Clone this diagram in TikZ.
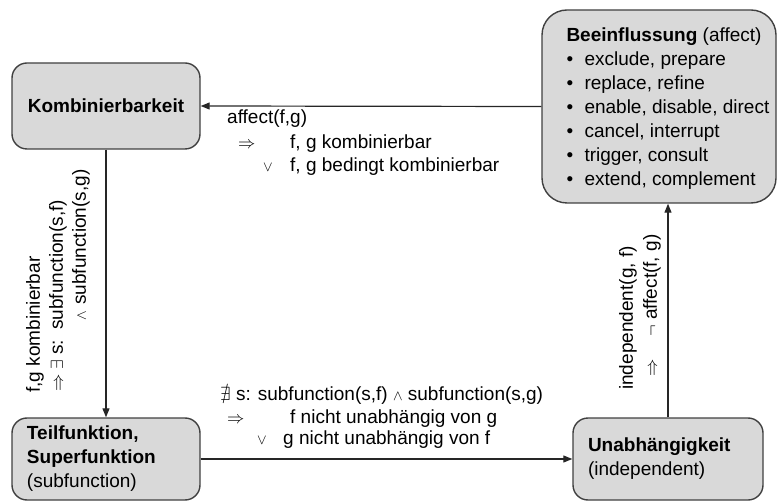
\documentclass[tikz,border=0pt]{standalone}
\usepackage{fontspec}
\setmainfont{Liberation Sans}
\usepackage{amssymb}
\usetikzlibrary{arrows.meta}
\newcommand{\tabto}[2]{\makebox[#1][l]{#2}}
\newcommand{\smallor}{$\scriptstyle\vee$}
\newcommand{\smalland}{$\scriptstyle\wedge$}
\definecolor{boxgray}{RGB}{217,217,217}
\definecolor{edgegray}{RGB}{64,64,64}

\begin{document}
\begin{tikzpicture}[x=1pt,y=-1pt,font=\fontsize{19}{24}\selectfont,
  box/.style={draw=edgegray,fill=boxgray,line width=1.4pt,rounded corners=15pt,inner sep=0pt},
  conn/.style={draw=black!85,line width=1.2pt,-{Triangle[length=9pt,width=7pt]}},
  lbl/.style={inner sep=0pt,anchor=west},
  vlbl/.style={inner sep=0pt,anchor=west,rotate=90}]
\useasboundingbox (0,0) rectangle (781,502);
%%%%%%%%%%%%%%%%%%%% the four boxes %%%%%%%%%%%%%%%%%%%%
\node[box,minimum width=188pt,minimum height=86pt] (komb) at (106,106) {\textbf{Kombinierbarkeit}};
\node[box,rounded corners=25pt,minimum width=234pt,minimum height=193pt] (beeinfl) at (659,106.5) {};
\node[lbl,align=left,yshift=-2pt] (beeinflText) at ([xshift=25pt]beeinfl.west)
  {\textbf{Beeinflussung} (affect)\\
   \tabto{18pt}{\textbullet}exclude, prepare\\
   \tabto{18pt}{\textbullet}replace, refine\\
   \tabto{18pt}{\textbullet}enable, disable, direct\\
   \tabto{18pt}{\textbullet}cancel, interrupt\\
   \tabto{18pt}{\textbullet}trigger, consult\\
   \tabto{18pt}{\textbullet}extend, complement};
\node[box,align=left,inner xsep=15pt,text width=158pt,minimum height=82pt] (teil) at (106,459)
  {\textbf{Teilfunktion,}\\\textbf{Superfunktion}\\(subfunction)};
\node[box,align=left,inner xsep=15pt,text width=160pt,minimum height=82pt] (unab) at (668,459)
  {\textbf{Unabhängigkeit}\\(independent)};
%%%%%%%%%%%%%%%%%%%% connectors %%%%%%%%%%%%%%%%%%%%
\draw[conn] (beeinfl.west) -- (komb.east);
\draw[conn] (komb.south) -- (teil.north);
\draw[conn] (teil.east) -- (unab.west);
\draw[conn] (unab.north) -- (unab.north |- beeinfl.south);
%%%%%%%%%%%%%%%%%%%% affect(f,g) %%%%%%%%%%%%%%%%%%%%
\node[lbl] (affA) at (227,119) {affect(f,g)};
\node[lbl] (affB) at (238,144) {\tabto{52pt}{$\Rightarrow$}f, g kombinierbar};
\node[lbl] (affC) at (263,167) {\tabto{27pt}{\smallor}f, g bedingt kombinierbar};
%%%%%%%%%%%%%%%%%%%% f,g kombinierbar %%%%%%%%%%%%%%%%%%%%
\node[vlbl] (kombA) at (35,393) {f,g kombinierbar};
\node[vlbl] (kombB) at (58,392) {\tabto{22pt}{$\Rightarrow$}\tabto{40pt}{$\exists$ s:}subfunction(s,f)};
\node[vlbl] (kombC) at (81,321) {\tabto{16pt}{\smalland}subfunction(s,g)};
%%%%%%%%%%%%%%%%%%%% no common subfunction %%%%%%%%%%%%%%%%%%%%
\node[lbl] (subA) at (220,396) {$\nexists$ s: subfunction(s,f) \smalland{} subfunction(s,g)};
\node[lbl] (subB) at (227,419) {\tabto{63pt}{$\Rightarrow$}f nicht unabhängig von g};
\node[lbl] (subC) at (257,440) {\tabto{26pt}{\smallor}g nicht unabhängig von f};
%%%%%%%%%%%%%%%%%%%% independent(g,f) %%%%%%%%%%%%%%%%%%%%
\node[vlbl] (indA) at (628,390) {independent(g, f)};
\node[vlbl] (indB) at (652,377) {\tabto{40pt}{$\Rightarrow$}\tabto{17pt}{$\neg$}affect(f, g)};
\end{tikzpicture}
\end{document}
